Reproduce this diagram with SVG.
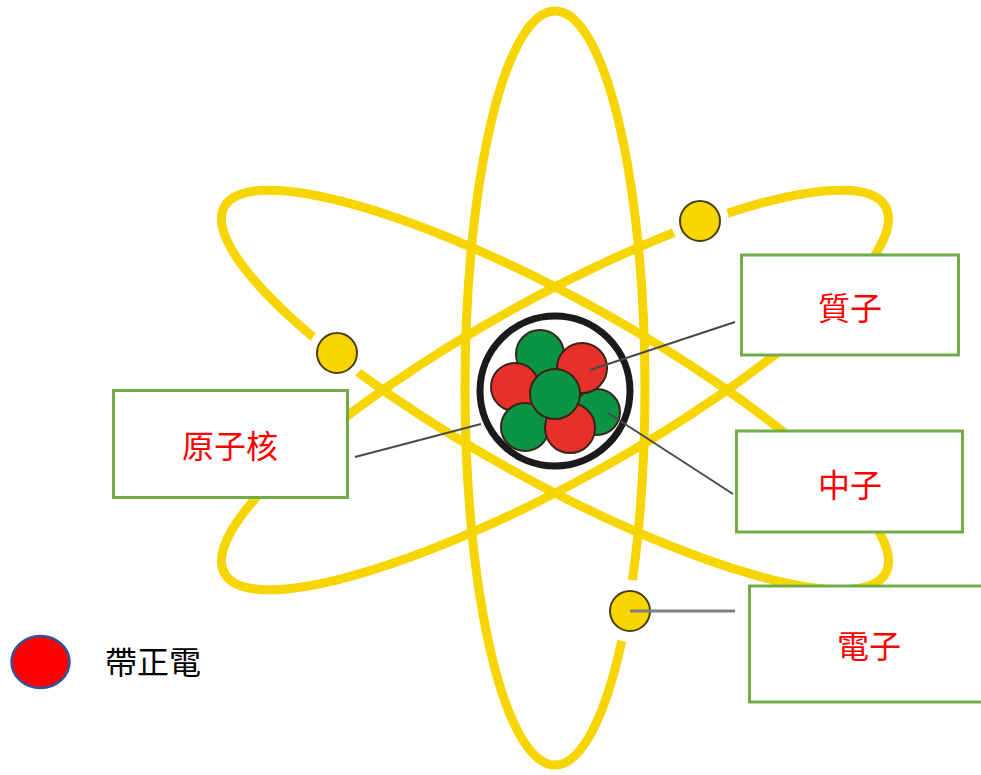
<svg xmlns="http://www.w3.org/2000/svg" width="981" height="775" viewBox="0 0 981 775">
  <style>
    .orbit { fill: none; stroke: #f7d500; stroke-width: 9; }
    .halo { fill: #ffffff; }
    .electron { fill: #f7d500; stroke: #4a3f12; stroke-width: 2; }
    .p { fill: #e5312a; stroke: #3b2419; stroke-width: 2; }
    .n { fill: #0a9444; stroke: #3b2419; stroke-width: 2; }
    .box { fill: #ffffff; stroke: #70ad47; stroke-width: 3; }
    .label { font-family: "Noto Sans CJK TC", "Noto Sans CJK SC", sans-serif; font-size: 32px; fill: #ff0000; text-anchor: middle; dominant-baseline: central; }
    .legend-text { font-family: "Noto Sans CJK TC", "Noto Sans CJK SC", sans-serif; font-size: 32px; fill: #000000; dominant-baseline: central; }
    .leader { stroke: #4a4a4a; stroke-width: 2; fill: none; }
  </style>

  <rect width="981" height="775" fill="#ffffff"/>

  <!-- orbits -->
  <g id="orbits">
    <ellipse class="orbit" cx="555" cy="388" rx="90" ry="377"/>
    <ellipse class="orbit" cx="555" cy="390" rx="378" ry="91" transform="rotate(29 555 390)"/>
    <ellipse class="orbit" cx="555" cy="390" rx="378" ry="91" transform="rotate(-29 555 390)"/>
  </g>

  <!-- nucleus -->
  <g id="nucleus">
    <circle cx="555" cy="391" r="75" fill="#ffffff" stroke="#1a1a1a" stroke-width="7"/>
    <circle class="n" cx="540" cy="354" r="24"/>
    <circle class="n" cx="597" cy="412" r="23"/>
    <circle class="p" cx="582" cy="368" r="25"/>
    <circle class="p" cx="515" cy="387" r="24"/>
    <circle class="n" cx="525" cy="427" r="24"/>
    <circle class="p" cx="570" cy="428" r="25"/>
    <circle class="n" cx="555" cy="394" r="25"/>
  </g>

  <!-- electrons -->
  <g id="electron-1">
    <circle class="halo" cx="337" cy="353" r="29"/>
    <circle class="electron" cx="337" cy="353" r="20"/>
  </g>
  <g id="electron-2">
    <circle class="halo" cx="700" cy="221" r="29"/>
    <circle class="electron" cx="700" cy="221" r="20"/>
  </g>
  <g id="electron-3">
    <circle class="halo" cx="630" cy="611" r="31"/>
    <circle class="electron" cx="630" cy="611" r="20"/>
  </g>

  <!-- label boxes -->
  <g id="label-proton">
    <rect class="box" x="741.5" y="255" width="217" height="100"/>
    <text class="label" x="850" y="306">質子</text>
  </g>
  <g id="label-nucleus">
    <rect class="box" x="113.5" y="390.5" width="234" height="107"/>
    <text class="label" x="230" y="444">原子核</text>
  </g>
  <g id="label-neutron">
    <rect class="box" x="736.5" y="431" width="226" height="101"/>
    <text class="label" x="850" y="483">中子</text>
  </g>
  <g id="label-electron">
    <rect class="box" x="749.5" y="586" width="240" height="116"/>
    <text class="label" x="869" y="644">電子</text>
  </g>

  <!-- leader lines -->
  <g id="connectors">
    <line class="leader" x1="735" y1="322" x2="590" y2="370"/>
    <line class="leader" x1="733" y1="494" x2="608" y2="413"/>
    <line class="leader" x1="355" y1="457" x2="481" y2="424"/>
    <line x1="630" y1="611" x2="735" y2="611" stroke="#7f7f7f" stroke-width="3"/>
  </g>

  <!-- legend -->
  <g id="legend">
    <ellipse cx="40.5" cy="662" rx="29" ry="26" fill="#ff0000" stroke="#2f5597" stroke-width="2.5"/>
    <text class="legend-text" x="105" y="660">帶正電</text>
  </g>
</svg>
